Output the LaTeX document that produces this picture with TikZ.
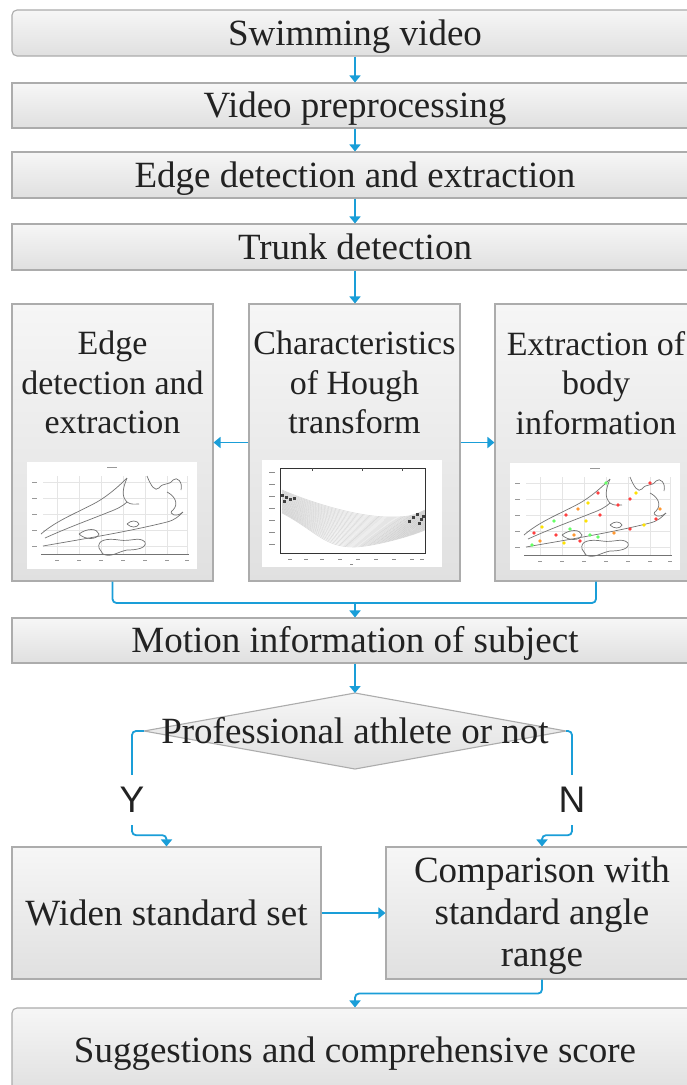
\documentclass[tikz,border=0pt]{standalone}
\usepackage{fontspec}
\setmainfont{Liberation Serif}
\newfontfamily\labelsans{Liberation Sans}
\usetikzlibrary{arrows.meta}
\definecolor{flowblue}{RGB}{26,158,216}
\definecolor{boxline}{RGB}{172,172,172}
\definecolor{boxtop}{RGB}{246,246,246}
\definecolor{boxbot}{RGB}{224,224,224}
\definecolor{ink}{RGB}{34,34,34}
\tikzset{
  panel/.style={draw=boxline, line width=1.1pt, top color=boxtop, bottom color=boxbot},
  stage/.style={panel, text=ink, inner sep=0pt, align=center,
    font=\fontsize{37}{42}\selectfont},
  oneline/.style={text height=33pt, text depth=9pt},
  wide/.style={stage, oneline, minimum width=686pt},
  bigtext/.style={text=ink, inner sep=0pt, align=center,
    font=\fontsize{37}{42}\selectfont},
  paneltext/.style={text=ink, inner sep=0pt, align=center,
    font=\fontsize{34}{39.5}\selectfont},
  yn/.style={text=ink, inner sep=0pt, minimum height=50pt,
    font=\labelsans\fontsize{37}{37}\selectfont},
  flow/.style={draw=flowblue, line width=1.8pt, rounded corners=4pt},
  flowto/.style={flow, -{Triangle[width=11pt,length=7pt]}},
  contour/.style={draw=black!55, line width=0.7pt},
  swimmer/.pic={
    \fill[white] (0,0) rectangle (170,107);
    \foreach \gx in {30,52,74,96,118,140,160}
      \draw[black!10, line width=0.5pt] (\gx,14) -- (\gx,92);
    \foreach \gy in {20,36,52,68,84}
      \draw[black!10, line width=0.5pt] (16,\gy) -- (160,\gy);
    \draw[black!55, line width=0.9pt] (14,92) -- (162,92);
    \foreach \gx in {30,52,74,96,118,140,160}
      \fill[black!40] (\gx-2,98) rectangle ++(4,1.4);
    \foreach \gy in {20,36,52,68,84}
      \fill[black!40] (5,\gy) rectangle ++(5,1.4);
    \fill[black!40] (80,5) rectangle ++(10,1.4);
    % upper limb
    \draw[contour] (14,72) .. controls (30,58) and (52,50) .. (70,40)
      .. controls (82,33) and (92,24) .. (100,16);
    \draw[contour] (100,16) .. controls (96,26) and (94,34) .. (100,40)
      .. controls (104,43) and (108,42) .. (112,42);
    \draw[contour] (18,76) .. controls (40,66) and (62,58) .. (82,50)
      .. controls (90,47) and (96,44) .. (100,40);
    % trunk line
    \draw[contour] (16,84) .. controls (50,78) and (100,70) .. (140,60)
      .. controls (148,58) and (152,54) .. (156,50);
    % hand and head clutter
    \draw[contour] (120,14) .. controls (124,24) and (128,30) .. (132,26)
      .. controls (136,20) and (142,24) .. (146,18)
      .. controls (150,14) and (156,20) .. (154,28);
    \draw[contour] (140,30) .. controls (148,34) and (152,42) .. (146,48)
      .. controls (140,52) and (150,56) .. (156,50);
    % legs
    \draw[contour] (72,86) .. controls (70,78) and (80,76) .. (92,78)
      .. controls (104,80) and (112,74) .. (118,80)
      .. controls (120,86) and (110,88) .. (100,88)
      .. controls (90,90) and (84,96) .. (76,92) -- cycle;
    \draw[contour] (52,72) .. controls (60,66) and (70,66) .. (72,72)
      .. controls (70,78) and (58,78) .. (52,72);
    \draw[contour] (100,62) .. controls (104,58) and (110,58) .. (112,62)
      .. controls (110,66) and (104,66) .. (100,62);
  }
}
\begin{document}
\begin{tikzpicture}[x=1pt,y=-1pt]
\useasboundingbox (0,0) rectangle (687,1085);
\clip (0,0) rectangle (687,1085);
\fill[white] (0,0) rectangle (687,1085);

% preprocessing chain
\node[wide, minimum height=46pt, rounded corners=5pt] (video) at (355,33) {Swimming video};
\node[wide, minimum height=45pt] (prep) at (355,105.5) {Video preprocessing};
\node[wide, minimum height=46pt] (edge) at (355,175) {Edge detection and extraction};
\node[wide, minimum height=46pt] (trunk) at (355,247) {Trunk detection};

% three feature panels
\node[stage, minimum width=201pt, minimum height=277pt] (lbox) at (112.5,442.5) {};
\node[stage, minimum width=211pt, minimum height=277pt] (mbox) at (354.5,442.5) {};
\node[stage, minimum width=202pt, minimum height=277pt] (rbox) at (596,442.5) {};
\node[paneltext, anchor=north] (ltxt) at (112.5,331) {Edge\\detection and\\extraction};
\node[paneltext, anchor=north] (mtxt) at (354.5,331) {Characteristics\\of Hough\\transform};
\node[paneltext, anchor=north] (rtxt) at (596,331) {Extraction of\\body\\information};

% edge map
\pic at (27,462) {swimmer};
% Hough accumulator: a fan of sinusoid-like traces
\begin{scope}[shift={(262,460)}]
  \fill[white] (0,0) rectangle (180,107);
  \foreach \k in {0,...,30} {
    \pgfmathsetmacro{\t}{\k/30}
    \pgfmathsetmacro{\ly}{30+23*\t}
    \pgfmathsetmacro{\mx}{128-36*\t}
    \pgfmathsetmacro{\my}{57+30*\t}
    \pgfmathsetmacro{\ry}{50+20*\t}
    \draw[black, opacity=0.14, line width=0.6pt]
      (20,\ly) .. controls (55,{\ly+0.55*(\my-\ly)}) and ({\mx-30},\my) .. (\mx,\my)
      .. controls ({\mx+18},\my) and (150,{\ry+6}) .. (163,\ry);
  }
  \foreach \px/\py in {19/34,23/36,27/38,21/40,31/37,150/56,154/53,158/58,146/60,156/62,160/55}
    \fill[black!75] (\px,\py) rectangle ++(2.6,2.6);
  \fill[white] (163.4,7) rectangle (180,95);
  \draw[black!80, line width=0.7pt] (18,8) rectangle (163,93);
  \foreach \gx in {50,100,140}
    \draw[black!70, line width=0.5pt] (\gx,8) -- ++(0,3);
  \foreach \gy in {12,24,36,48,60,72,84}
    \fill[black!45] (7,\gy) rectangle ++(6,1.4);
  \foreach \gx in {28,44,60,78,96,114,132,150,160}
    \fill[black!45] (\gx-2,99) rectangle ++(4,1.4);
  \fill[black!45] (88,104) rectangle ++(3,1.4);
\end{scope}
% body points on the edge map
\pic at (510,463) {swimmer};
\begin{scope}[shift={(510,463)}]
  \foreach \px/\py/\c in {24/70/red!75, 32/64/yellow!85!orange, 44/58/green!60, 56/52/red!75,
      68/46/orange!80, 78/40/yellow!85!orange, 88/30/red!75, 96/20/green!60,
      30/78/orange!80, 46/72/red!75, 60/66/green!60, 76/58/yellow!85!orange,
      90/52/red!75, 54/80/yellow!85!orange, 70/78/red!75, 88/74/green!60,
      104/70/orange!80, 120/66/red!75, 134/62/yellow!85!orange, 146/56/red!75,
      64/72/orange!80, 80/72/green!60, 120/36/red!75, 126/30/yellow!85!orange,
      140/20/red!75, 150/46/orange!80, 108/42/red!75, 22/82/green!60}
    \fill[\c] (\px,\py) circle (1.9);
\end{scope}

% decision and final stages
\node[wide, minimum height=45pt] (motion) at (355,640.5) {Motion information of subject};
\coordinate (dtop) at (355,693);
\coordinate (dright) at (566,731);
\coordinate (dbot) at (355,769);
\coordinate (dleft) at (144,731);
\path[panel] (dtop) -- (dright) -- (dbot) -- (dleft) -- cycle;
\node[bigtext] (ask) at (355,731) {Professional athlete or not};
\node[yn] (yes) at (132,800) {Y};
\node[yn] (no) at (572,800) {N};
\node[stage, oneline, minimum width=309pt, minimum height=132pt] (widen) at (166.5,913) {Widen standard set};
\node[stage, minimum width=312pt, minimum height=132pt] (compare) at (542,913) {};
\node[bigtext, anchor=north] (comptxt) at (542,857) {Comparison with\\standard angle\\range};
\node[wide, minimum height=84pt, rounded corners=5pt] (score) at (355,1050) {Suggestions and comprehensive score};

% connectors
\draw[flowto] (video.south) -- (prep.north);
\draw[flowto] (prep.south) -- (edge.north);
\draw[flowto] (edge.south) -- (trunk.north);
\draw[flowto] (trunk.south) -- (trunk.south |- mbox.north);
\draw[flowto] (mbox.west) -- (lbox.east);
\draw[flowto] (mbox.east) -- (rbox.west);
\coordinate (join) at (355,603);
\draw[flow] (lbox.south) |- (join) -| (rbox.south);
\draw[flowto] (join) -- (motion.north);
\draw[flowto] (motion.south) -- (dtop);
\draw[flow] (dleft) -| (yes.north);
\draw[flowto] (yes.south) -- ++(0,10) -| (widen.north);
\draw[flow] (dright) -| (no.north);
\draw[flowto] (no.south) -- ++(0,10) -| (compare.north);
\draw[flowto] (widen.east) -- (compare.west);
\draw[flowto] (compare.south) -- ++(0,14) -| (score.north);
\end{tikzpicture}
\end{document}
